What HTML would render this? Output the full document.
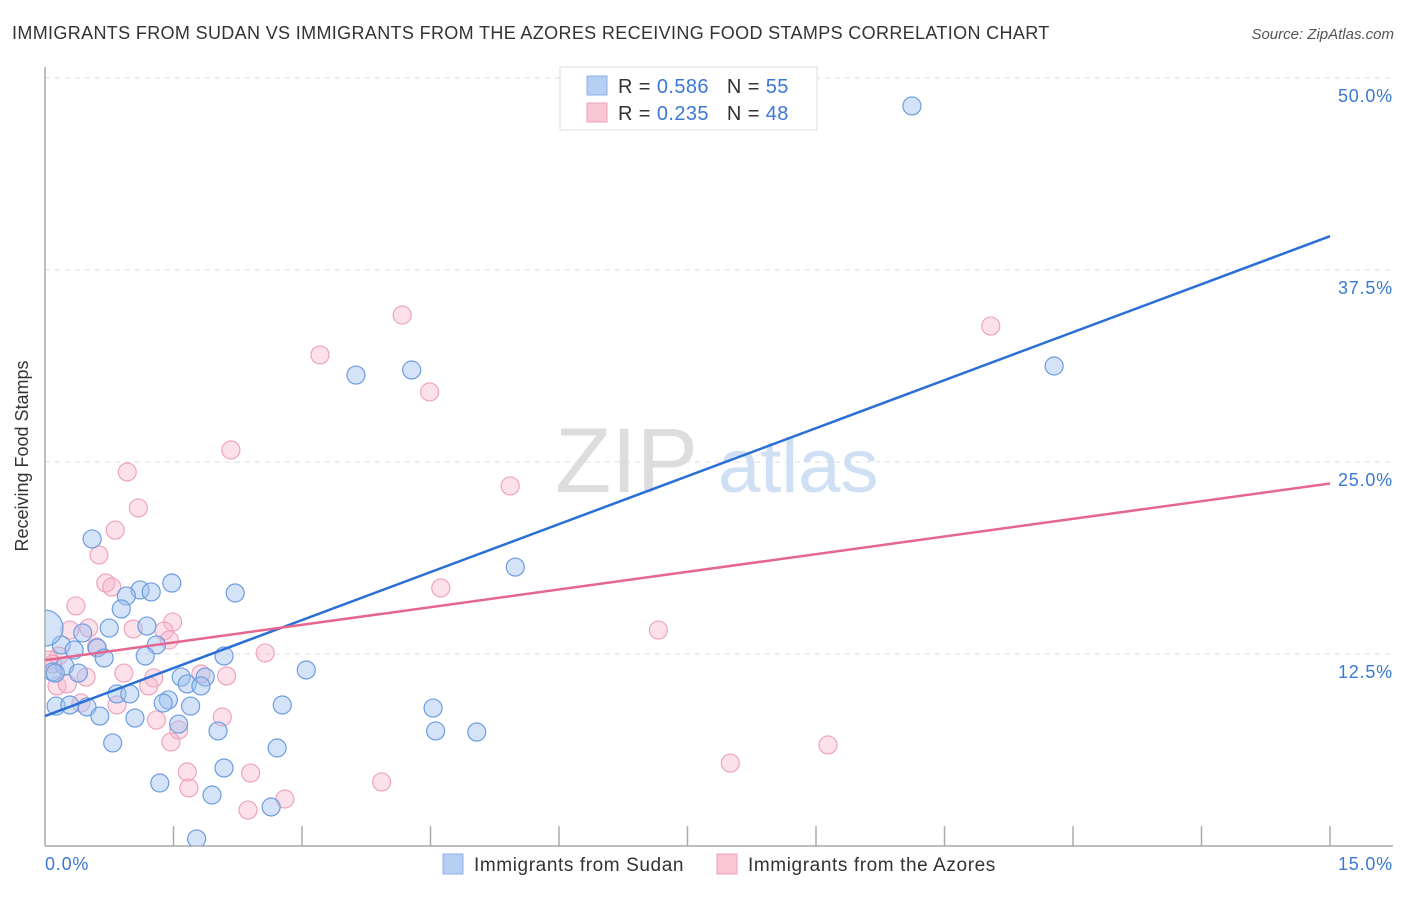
<!DOCTYPE html>
<html><head><meta charset="utf-8"><style>
body{margin:0;background:#fff;font-family:"Liberation Sans",sans-serif;}
svg text{font-family:"Liberation Sans",sans-serif;}
</style></head><body>
<svg id="chart" width="1406" height="892">
<defs><clipPath id="plotclip"><rect x="45" y="60" width="1360" height="786"/></clipPath></defs>
<text x="12" y="39" font-size="18" fill="#333" letter-spacing="0.35">IMMIGRANTS FROM SUDAN VS IMMIGRANTS FROM THE AZORES RECEIVING FOOD STAMPS CORRELATION CHART</text>
<text x="1394" y="39" font-size="15" fill="#555" font-style="italic" text-anchor="end">Source: ZipAtlas.com</text>
<text x="28" y="456" font-size="18" fill="#333" text-anchor="middle" transform="rotate(-90 28 456)">Receiving Food Stamps</text>
<g id="grid"></g>
<text x="555" y="492" font-size="92" fill="#ddd" font-family="Liberation Serif">ZIP</text>
<text x="718" y="492" font-size="76" fill="#cfe0f4">atlas</text>
<g id="points" clip-path="url(#plotclip)"></g>
<g id="lines"></g>
<g>
<rect x="560" y="67" width="257" height="63" fill="#fff" stroke="#ddd"/>
<rect x="587" y="76" width="20" height="19" fill="#b6d0f3" stroke="#8bb2e8"/>
<rect x="587" y="103" width="20" height="19" fill="#f9c6d6" stroke="#eea2bb"/>
<text x="618" y="93" font-size="20" fill="#333" letter-spacing="0.4">R = <tspan fill="#3b78d8">0.586</tspan><tspan dx="18">N = </tspan><tspan fill="#3b78d8">55</tspan></text>
<text x="618" y="120" font-size="20" fill="#333" letter-spacing="0.4">R = <tspan fill="#3b78d8">0.235</tspan><tspan dx="18">N = </tspan><tspan fill="#3b78d8">48</tspan></text>
</g>
<g>
<rect x="443" y="854" width="20" height="20" fill="#b6d0f3" stroke="#8bb2e8"/>
<text x="474" y="871" font-size="19" fill="#333" letter-spacing="0.6">Immigrants from Sudan</text>
<rect x="717" y="854" width="20" height="20" fill="#f9c6d6" stroke="#eea2bb"/>
<text x="748" y="871" font-size="19" fill="#333" letter-spacing="0.6">Immigrants from the Azores</text>
</g>
</svg>
<script>
const xTicks=[0,1.5,3,4.5,6,7.5,9,10.5,12,13.5,15];
const yTicks=[12.5,25,37.5,50];
const yTickLabels=["12.5%","25.0%","37.5%","50.0%"];
const sudanX=[10.12,11.78,3.63,4.28,5.49,0.55,1.48,1.11,1.24,0.95,2.22,0.89,0.75,1.19,0.44,0.19,0.61,0.34,1.30,0.69,1.17,2.09,0.23,0.09,0.39,3.05,1.59,1.66,1.87,1.82,0.84,0.99,1.44,1.38,1.70,0.13,0.29,0.49,2.77,4.53,0.64,1.05,1.56,2.02,4.56,5.04,0.79,2.71,2.09,1.34,1.95,2.64,1.77,0,0.12];
const sudanY=[48.18,31.25,30.66,30.99,18.16,19.99,17.12,16.67,16.54,16.28,16.47,15.43,14.19,14.32,13.87,13.09,12.89,12.76,13.09,12.24,12.37,12.37,11.72,11.33,11.26,11.46,11.00,10.55,11.00,10.42,9.90,9.90,9.51,9.31,9.11,9.11,9.18,9.05,9.18,8.98,8.46,8.33,7.94,7.49,7.49,7.42,6.71,6.38,5.08,4.10,3.32,2.54,0.46,14.19,11.26];
const sudanR=[9,9,9,9,9,9,9,9,9,9,9,9,9,9,9,9,9,9,9,9,9,9,9,9,9,9,9,9,9,9,9,9,9,9,9,9,9,9,9,9,9,9,9,9,9,9,9,9,9,9,9,9,9,18,9];
const azoresX=[4.17,11.04,3.21,4.49,2.17,5.43,0.96,1.09,0.82,0.63,0.71,0.78,4.62,0.36,1.49,0.51,0.29,1.03,1.39,1.45,0.60,0.16,7.16,2.57,0.05,0.92,1.82,2.12,0.48,1.27,0.14,0.26,1.21,0.42,0.84,2.07,1.30,1.56,1.47,9.14,8.00,1.66,2.40,1.68,3.93,2.80,2.37,0.09];
const azoresY=[34.57,33.85,31.97,29.56,25.78,23.44,24.35,22.01,20.57,18.95,17.12,16.86,16.80,15.63,14.58,14.19,14.06,14.13,14.00,13.41,12.96,12.37,14.06,12.57,12.11,11.26,11.20,11.07,11.00,10.94,10.42,10.55,10.42,9.31,9.18,8.40,8.20,7.55,6.77,6.58,5.40,4.82,4.75,3.78,4.17,3.06,2.34,11.85];
const sudanTrend=[8.46,39.7];
const azoresTrend=[12.1,23.6];
const X0=45,X1=1330,Y0=846,PX=15.36;
const sx=v=>X0+v/15*(X1-X0);
const sy=v=>Y0-v*PX;
const NS="http://www.w3.org/2000/svg";
function mk(tag,attrs,parent){const e=document.createElementNS(NS,tag);for(const k in attrs)e.setAttribute(k,attrs[k]);parent.appendChild(e);return e;}
const grid=document.getElementById('grid');
yTicks.forEach((t,i)=>{
  const l=mk('line',{x1:X0,x2:1393,y1:sy(t),y2:sy(t),stroke:'#ddd','stroke-dasharray':'5,5'},grid);
  
  
  const tx=mk('text',{x:1393,y:sy(t)+24,'font-size':18,fill:'#3b78d8','text-anchor':'end','letter-spacing':'0.8'},grid);
  tx.textContent=yTickLabels[i];
  
  
});
const ax=mk('line',{x1:X0,x2:1393,y1:Y0,y2:Y0,stroke:'#aaa','stroke-width':1.5},grid);


const ay=mk('line',{x1:X0,x2:X0,y1:67,y2:Y0,stroke:'#aaa','stroke-width':1.5},grid);


xTicks.forEach(t=>{
  if(t===0)return;
  const l=mk('line',{x1:sx(t),x2:sx(t),y1:826,y2:Y0,stroke:'#aaa','stroke-width':1.5},grid);
  
  
});
const xl0=mk('text',{x:45,y:870,'font-size':18,fill:'#3b78d8','letter-spacing':'0.8'},grid);xl0.textContent='0.0%';


const xl1=mk('text',{x:1393,y:870,'font-size':18,fill:'#3b78d8','text-anchor':'end','letter-spacing':'0.8'},grid);xl1.textContent='15.0%';


const pts=document.getElementById('points');
azoresX.forEach((v,i)=>{
  const c=mk('circle',{cx:sx(v),cy:sy(azoresY[i]),r:9,fill:'rgba(248,180,202,0.4)',stroke:'#eda4bd','stroke-width':1.2},pts);
  
  
});
sudanX.forEach((v,i)=>{
  const c=mk('circle',{cx:sx(v),cy:sy(sudanY[i]),r:sudanR[i],fill:'rgba(160,194,240,0.45)',stroke:'#6c9de0','stroke-width':1.2},pts);
  
  
});
const ln=document.getElementById('lines');
const bl=mk('line',{x1:sx(0),y1:sy(sudanTrend[0]),x2:sx(15),y2:sy(sudanTrend[1]),stroke:'#2a6fd6','stroke-width':2.5},ln);


const pl=mk('line',{x1:sx(0),y1:sy(azoresTrend[0]),x2:sx(15),y2:sy(azoresTrend[1]),stroke:'#e5668f','stroke-width':2.5},ln);


</script>
</body></html>
